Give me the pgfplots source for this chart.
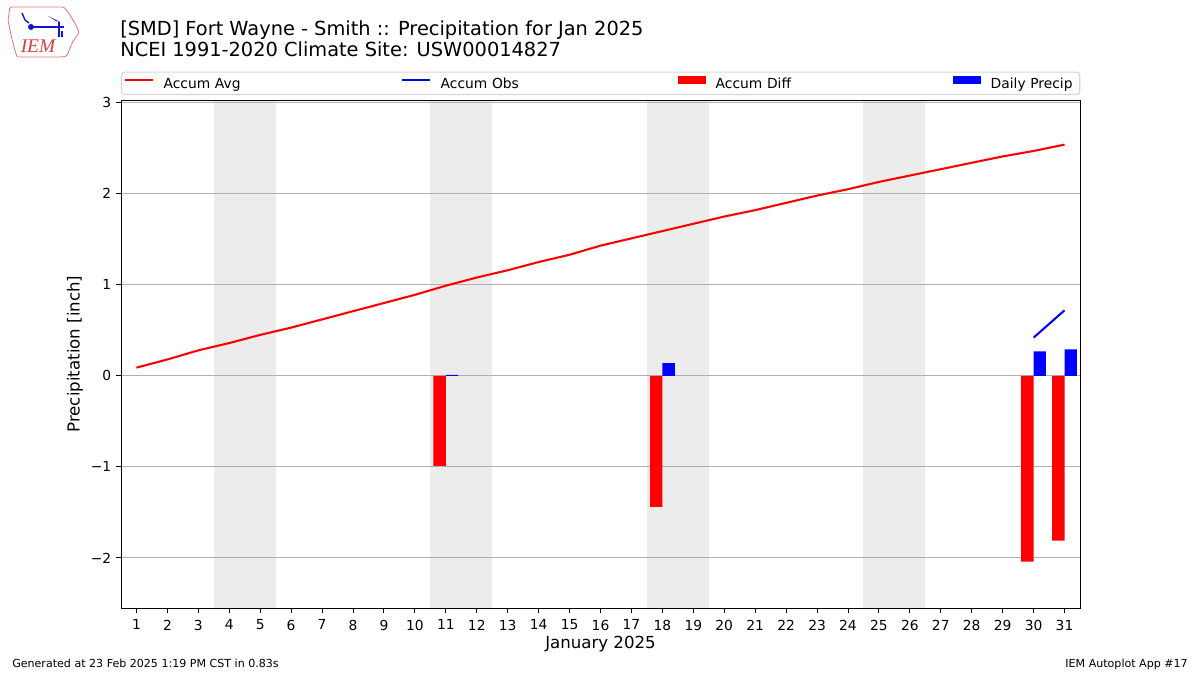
\documentclass[border=0pt]{standalone}
\usepackage{fontspec}
\setmainfont{DejaVu Sans}
\newfontfamily\logofont{Liberation Serif}
\usepackage{pgfplots}
\pgfplotsset{compat=1.18}

\definecolor{shade}{RGB}{236,236,236}
\definecolor{gridgray}{RGB}{176,176,176}
\definecolor{legedge}{RGB}{214,214,214}
\definecolor{logored}{RGB}{220,60,60}
\definecolor{logoblue}{RGB}{20,20,200}

\begin{document}
\begin{tikzpicture}
\path (0,0) rectangle (12in,6.75in);

% logo (rough)
\draw[logored!70, line width=0.6pt, rounded corners=1pt]
  (0.10in,6.68in) -- (0.64in,6.68in) -- (0.70in,6.60in) -- (0.77in,6.48in) -- (0.79in,6.42in)
  -- (0.73in,6.34in) -- (0.70in,6.27in) -- (0.67in,6.19in) -- (0.62in,6.18in)
  -- (0.17in,6.18in) -- (0.14in,6.28in) -- (0.11in,6.40in) -- (0.08in,6.55in) -- cycle;
\draw[logoblue, line width=1pt] (0.30in,6.48in) -- (0.64in,6.48in);
\fill[logoblue] (0.31in,6.48in) circle (0.03in);
\draw[logoblue, line width=1pt] (0.22in,6.62in) -- (0.25in,6.55in) -- (0.29in,6.52in);
\fill[logoblue] (0.48in,6.59in) -- (0.56in,6.54in) -- (0.60in,6.53in) -- (0.52in,6.57in) -- cycle;
\draw[logoblue, line width=1pt] (0.59in,6.53in) -- (0.59in,6.38in);
\draw[logoblue, line width=0.8pt] (0.62in,6.44in) -- (0.62in,6.38in);
\node[anchor=base, inner sep=0pt, text=logored, font=\logofont\itshape\fontsize{14}{16}\selectfont] at (0.38in,6.22in) {IEM};

% titles
\node[anchor=base west, inner sep=0pt, font=\fontsize{14}{16}\selectfont] at (1.20in,6.39in) {[SMD] Fort Wayne - Smith :: Precipitation for Jan 2025};
\node[anchor=base west, inner sep=0pt, font=\fontsize{14}{16}\selectfont] at (1.20in,6.18in) {NCEI 1991-2020 Climate Site: USW00014827};

% footer
\node[anchor=base west, inner sep=0pt, font=\fontsize{8}{9}\selectfont] at (0.12in,0.08in) {Generated at 23 Feb 2025 1:19 PM CST in 0.83s};
\node[anchor=base east, inner sep=0pt, font=\fontsize{8}{9}\selectfont] at (11.88in,0.08in) {IEM Autoplot App \#17};

\begin{axis}[
  at={(1.21in,0.67in)}, anchor=south west,
  scale only axis, width=9.59in, height=5.08in,
  set layers,
  xmin=0.5, xmax=31.5, ymin=-2.55, ymax=3.03,
  xtick={1,...,31}, ytick={-2,-1,0,1,2,3},
  yticklabels={−2,−1,0,1,2,3},
  /pgf/number format/assume math mode=true,
  tick label style={font=\fontsize{10}{12}\selectfont},
  xticklabel style={yshift=-1.5pt},
  xtick pos=left, ytick pos=left, tick align=outside,
  major tick length=3.5pt,
  every tick/.style={black, line width=0.7pt},
  axis line style={line width=0.7pt},
  ymajorgrids, grid style={gridgray, line width=0.8pt},
  xlabel={January 2025}, ylabel={Precipitation [inch]},
  every axis x label/.style={at={(axis description cs:0.5,-0.071)}, anchor=center,
    font=\fontsize{12}{14}\selectfont},
  every axis y label/.style={at={(axis description cs:-0.048,0.5)}, anchor=center, rotate=90,
    font=\fontsize{12}{14}\selectfont},
  legend columns=4,
  legend cell align=left,
  legend style={at={(axis description cs:0,1.0098)}, anchor=south west,
    draw=legedge, rounded corners=2pt, fill=white, line width=0.8pt,
    font=\fontsize{10}{12}\selectfont, inner xsep=0.02in, inner ysep=0.04in,
    nodes={inner xsep=0pt, inner ysep=0pt},
    /tikz/every odd column/.style={column sep=0.10in}},
]
% weekend shading
\addplot[on layer=axis background, fill=shade, draw=none, forget plot] coordinates {(3.5,-2.55) (5.5,-2.55) (5.5,3.03) (3.5,3.03)};
\addplot[on layer=axis background, fill=shade, draw=none, forget plot] coordinates {(10.5,-2.55) (12.5,-2.55) (12.5,3.03) (10.5,3.03)};
\addplot[on layer=axis background, fill=shade, draw=none, forget plot] coordinates {(17.5,-2.55) (19.5,-2.55) (19.5,3.03) (17.5,3.03)};
\addplot[on layer=axis background, fill=shade, draw=none, forget plot] coordinates {(24.5,-2.55) (26.5,-2.55) (26.5,3.03) (24.5,3.03)};

\addplot[red, line width=1.5pt,
  legend image code/.code={\draw[red, line width=1.5pt, sharp corners] (0in,0.045in) -- (0.28in,0.045in);}]
  coordinates {(1,0.09) (2,0.18) (3,0.28) (4,0.36) (5,0.45) (6,0.53) (7,0.62) (8,0.71)
  (9,0.80) (10,0.89) (11,0.99) (12,1.08) (13,1.16) (14,1.25) (15,1.33) (16,1.43)
  (17,1.51) (18,1.59) (19,1.67) (20,1.75) (21,1.82) (22,1.90) (23,1.98) (24,2.05)
  (25,2.13) (26,2.20) (27,2.27) (28,2.34) (29,2.41) (30,2.47) (31,2.54)};
\addlegendentry[text width=2.37in]{Accum Avg}

\addplot[blue, line width=1.5pt,
  legend image code/.code={\draw[blue, line width=1.5pt, sharp corners] (0in,0.045in) -- (0.28in,0.045in);}]
  coordinates {(30,0.42) (31,0.72)};
\addlegendentry[text width=2.37in]{Accum Obs}

\addplot[ybar, bar width=0.4, bar shift=-0.2, fill=red, draw=none,
  legend image code/.code={\fill[red, sharp corners] (0in,0in) rectangle (0.28in,0.08in);}]
  coordinates {(11,-0.99) (18,-1.44) (30,-2.04) (31,-1.81)};
\addlegendentry[text width=2.37in]{Accum Diff}

\addplot[ybar, bar width=0.4, bar shift=0.2, fill=blue, draw=none,
  legend image code/.code={\fill[blue, sharp corners] (0in,0in) rectangle (0.28in,0.08in);}]
  coordinates {(11,0.01) (18,0.14) (30,0.27) (31,0.29)};
\addlegendentry[text width=0.87in]{Daily Precip}
\end{axis}
\end{tikzpicture}
\end{document}
